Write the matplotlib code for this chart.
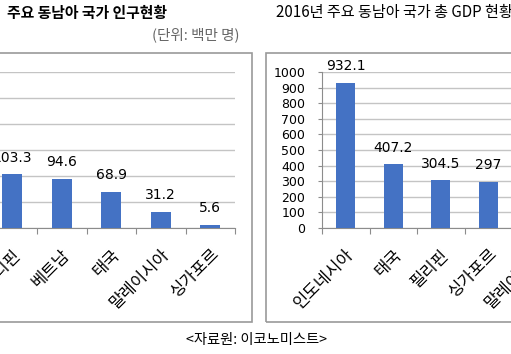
import matplotlib
matplotlib.use('Agg')
import matplotlib.pyplot as plt
from matplotlib.patches import Rectangle

plt.rcParams['font.family'] = ['Noto Sans CJK KR', 'DejaVu Sans']

# population (millions)
pop_countries = ['인도네시아', '필리핀', '베트남', '태국', '말레이시아', '싱가포르']
pop_values = [258.7, 103.3, 94.6, 68.9, 31.2, 5.6]

# 2016 GDP (billion USD)
gdp_countries = ['인도네시아', '태국', '필리핀', '싱가포르', '말레이시아', '베트남']
gdp_values = [932.1, 407.2, 304.5, 297, 296.5, 202.6]

W, H = 511, 354
BLUE = '#4472C4'
GRID = '#c4c4c4'
AXIS = '#8c8c8c'
NUM_FONT = 'DejaVu Sans'

fig = plt.figure(figsize=(W / 100, H / 100), dpi=100)


def fx(px):
    return px / W


def fy(py):
    return 1 - py / H


def bar_panel(rect, cats, vals, ymax, ystep, show_ylabels):
    ax = fig.add_axes(rect)
    n = len(cats)
    xs = list(range(n))
    ax.bar(xs, vals, width=0.4, color=BLUE, zorder=3)
    ax.set_xlim(-0.5, n - 0.5)
    ax.set_ylim(0, ymax)
    ax.set_yticks(range(0, ymax + 1, ystep))
    ax.yaxis.grid(True, color=GRID, lw=1)
    ax.set_axisbelow(True)
    for s in ['top', 'right']:
        ax.spines[s].set_visible(False)
    ax.spines['bottom'].set_color(AXIS)
    ax.spines['left'].set_color(AXIS)
    # category boundary ticks (Excel style)
    ax.set_xticks([i - 0.5 for i in range(n + 1)])
    ax.set_xticklabels([''] * (n + 1))
    ax.tick_params(axis='x', which='major', length=4, color=AXIS)
    ax.set_xticks(xs, minor=True)
    ax.set_xticklabels(cats, minor=True, rotation=45, ha='right',
                       rotation_mode='anchor', fontsize=12)
    ax.tick_params(axis='x', which='minor', length=0, pad=13)
    ax.tick_params(axis='y', length=3, color=AXIS, labelsize=9, pad=9,
                   labelleft=show_ylabels)
    for lbl in ax.get_yticklabels():
        lbl.set_family(NUM_FONT)
    for x, v in zip(xs, vals):
        ax.annotate(f'{v:g}', (x, v), xytext=(0, 7), textcoords='offset points',
                    ha='center', va='bottom', fontsize=10, family=NUM_FONT,
                    clip_on=False)
    return ax


bar_panel([fx(-62), fy(228), fx(297), 156 / H], pop_countries, pop_values, 300, 50, False)
bar_panel([fx(322), fy(228), fx(285), 156 / H], gdp_countries, gdp_values, 1000, 100, True)

# chart area borders
fig.add_artist(Rectangle((fx(-20), fy(322)), fx(272), (322 - 53) / H,
                         transform=fig.transFigure, fill=False, ec='#9a9a9a', lw=1.2))
fig.add_artist(Rectangle((fx(266), fy(322)), fx(280), (322 - 53) / H,
                         transform=fig.transFigure, fill=False, ec='#9a9a9a', lw=1.2))

fig.text(fx(7), fy(13), '주요 동남아 국가 인구현황', fontsize=10.7, fontweight='bold',
         ha='left', va='center')
fig.text(fx(240), fy(35), '(단위: 백만 명)', fontsize=10.5, color='#666666',
         ha='right', va='center')
fig.text(fx(276), fy(13), '2016년 주요 동남아 국가 총 GDP 현황', fontsize=10.9,
         ha='left', va='center')
fig.text(fx(256), fy(340), '<자료원: 이코노미스트>', fontsize=10.3,
         ha='center', va='center')

fig.savefig('out.png', dpi=100)
